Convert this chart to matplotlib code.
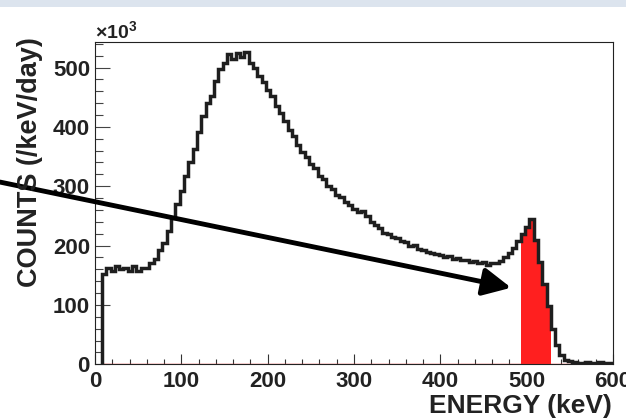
import numpy as np
import matplotlib
matplotlib.use('Agg')
import matplotlib.pyplot as plt
from matplotlib.patches import Rectangle
from matplotlib.ticker import MultipleLocator

plt.rcParams['font.family'] = ['Liberation Sans', 'DejaVu Sans']
plt.rcParams['font.weight'] = 'bold'
plt.rcParams['mathtext.fontset'] = 'custom'
plt.rcParams['mathtext.rm'] = 'Liberation Sans'
plt.rcParams['mathtext.bf'] = 'Liberation Sans:bold'

# energy spectrum, 5 keV bins starting at 8 keV (counts in units of 1e3 /keV/day)
bin_start = 8
bin_width = 5
counts = [
    152, 162, 158, 166, 160, 163, 158, 165, 157, 162,
    163, 170, 178, 192, 205, 224, 247, 270, 292, 318,
    340, 362, 392, 418, 440, 452, 478, 498, 508, 522,
    515, 525, 518, 526, 508, 500, 486, 476, 462, 452,
    436, 424, 410, 395, 385, 370, 358, 350, 338, 330,
    318, 312, 300, 296, 286, 282, 273, 268, 262, 256,
    258, 250, 240, 234, 230, 222, 219, 214, 212, 208,
    206, 200, 201, 195, 193, 190, 187, 185, 184, 181,
    182, 178, 179, 175, 176, 172, 174, 170, 172, 168,
    171, 170, 174, 180, 188, 196, 208, 220, 232, 245,
    210, 172, 135, 98, 60, 32, 16, 8, 5, 4,
    3, 3, 4, 3, 3, 4, 3, 3, 3,
]
# highlighted window (keV)
window = (493, 528)
# arrow: tail / head in (keV, counts)
arrow_tail = (-110, 307)
arrow_head = (482, 129)

counts = np.array(counts, dtype=float)
edges = bin_start + bin_width * np.arange(len(counts) + 1)
in_win = (edges[:-1] >= window[0]) & (edges[1:] <= window[1])
red_counts = np.where(in_win, counts, 0.0)

fig = plt.figure(figsize=(6.26, 4.18), dpi=100)
fig.patches.append(Rectangle((0, 1 - 7 / 418), 1, 7 / 418, transform=fig.transFigure,
                             facecolor='#dce4ee', edgecolor='none', zorder=0))
ax = fig.add_axes([95 / 626, 1 - 364.3 / 418, 518 / 626, (364.3 - 42) / 418])

ax.stairs(red_counts, edges, fill=True, color='#ff1f1f', lw=0, zorder=2)
ax.stairs(np.zeros_like(counts), edges, color='#ff3030', lw=1.0, zorder=2)
ax.stairs(counts, edges, baseline=0, color='#1e1e1e', lw=2.5, zorder=3)

ax.annotate('', xy=arrow_head, xytext=arrow_tail, annotation_clip=False,
            arrowprops=dict(arrowstyle='-|>,head_length=0.85,head_width=0.42',
                            color='black', lw=3.5, shrinkA=0, shrinkB=0,
                            mutation_scale=20), zorder=5)

ax.set_xlim(0, 600)
ax.set_ylim(0, 543)
ax.xaxis.set_major_locator(MultipleLocator(100))
ax.xaxis.set_minor_locator(MultipleLocator(20))
ax.yaxis.set_major_locator(MultipleLocator(100))
ax.yaxis.set_minor_locator(MultipleLocator(20))
ax.tick_params(axis='x', which='major', direction='in', length=7, width=0.8,
               color='#333333', labelsize=16, pad=4.5)
ax.tick_params(axis='x', which='minor', direction='in', length=3.5, width=0.8, color='#333333')
ax.tick_params(axis='y', which='major', direction='in', length=11, width=0.8,
               color='#444444', labelsize=16, pad=3.6)
ax.tick_params(axis='y', which='minor', direction='in', length=5.5, width=0.8, color='#444444')
for lab in ax.get_xticklabels() + ax.get_yticklabels():
    lab.set_fontweight('bold')
    lab.set_color('#222222')
for s in ax.spines.values():
    s.set_linewidth(0.8)
    s.set_color('#222222')

fig.text(30 / 626, 1 - 37 / 418, 'COUNTS (/keV/day)', rotation=90, ha='center', va='top',
         fontsize=19.5, fontweight='bold', color='#222222')
fig.text(612 / 626, 0, 'ENERGY (keV)', ha='right', va='bottom',
         fontsize=19, fontweight='bold', color='#222222')
fig.text(95 / 626, 1 - 38 / 418, r'$\times\mathbf{10^{3}}$', ha='left', va='baseline',
         fontsize=14, color='#222222')

fig.savefig('out.png', dpi=100)
